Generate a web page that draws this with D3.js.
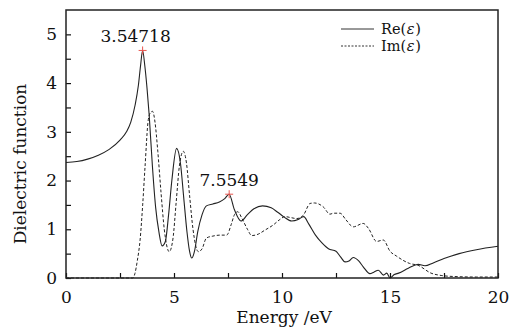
<!DOCTYPE html>
<html>
<head>
<meta charset="utf-8">
<script src="https://cdn.jsdelivr.net/npm/d3@7"></script>
<style>
  body { margin: 0; background: #fff; }
  svg text { font-family: "DejaVu Serif", serif; fill: #111; }
</style>
</head>
<body>
<div id="chart"></div>
<script>
// real part
var reX = [0, 0.5, 1, 1.5, 2, 2.5, 2.8, 3.0, 3.2, 3.35, 3.45, 3.547, 3.65, 3.75, 3.85, 4.0, 4.15, 4.3, 4.45, 4.6, 4.75, 4.9, 5.12, 5.3, 5.45, 5.6, 5.72, 5.82, 5.95, 6.1, 6.3, 6.5, 6.8, 7.1, 7.35, 7.55, 7.8, 8.1, 8.4, 8.7, 9.1, 9.5, 9.8, 10.1, 10.45, 10.75, 11.0, 11.25, 11.55, 11.85, 12.15, 12.5, 12.7, 12.92, 13.1, 13.3, 13.55, 13.76, 14.07, 14.25, 14.46, 14.7, 14.85, 15.0, 15.2, 15.4, 15.85, 16.3, 16.62, 17.0, 17.5, 18.2, 19.0, 20];
var reY = [2.37, 2.39, 2.44, 2.52, 2.64, 2.83, 3.0, 3.2, 3.55, 3.95, 4.35, 4.67, 4.35, 3.9, 3.35, 2.3, 1.45, 0.95, 0.66, 0.75, 1.3, 2.0, 2.66, 2.35, 1.65, 0.95, 0.55, 0.41, 0.55, 0.95, 1.3, 1.48, 1.52, 1.56, 1.63, 1.72, 1.4, 1.17, 1.3, 1.42, 1.48, 1.44, 1.35, 1.25, 1.17, 1.2, 1.26, 1.1, 0.88, 0.72, 0.6, 0.55, 0.44, 0.33, 0.35, 0.42, 0.35, 0.23, 0.09, 0.12, 0.16, 0.06, 0.1, 0.0, 0.07, 0.1, 0.2, 0.28, 0.25, 0.31, 0.4, 0.5, 0.58, 0.65];

// imaginary part
var imX = [0, 3.1, 3.19, 3.3, 3.43, 3.55, 3.66, 3.81, 3.92, 4.01, 4.12, 4.25, 4.4, 4.55, 4.78, 4.95, 5.1, 5.25, 5.43, 5.58, 5.72, 5.88, 6.13, 6.3, 6.5, 6.8, 7.13, 7.44, 7.65, 7.8, 7.95, 8.15, 8.4, 8.6, 8.9, 9.2, 9.6, 9.9, 10.14, 10.4, 10.68, 10.99, 11.3, 11.5, 11.91, 12.22, 12.38, 12.69, 12.95, 13.3, 13.76, 14.0, 14.38, 14.69, 15.0, 15.3, 15.9, 16.3, 16.9, 17.4, 18.0, 19.0, 20];
var imY = [0, 0, 0.09, 0.35, 0.78, 1.5, 2.29, 3.25, 3.4, 3.42, 3.2, 2.6, 1.75, 1.0, 0.54, 0.8, 1.55, 2.3, 2.6, 2.35, 1.7, 1.0, 0.54, 0.6, 0.82, 0.86, 0.88, 0.88, 1.1, 1.3, 1.36, 1.22, 1.0, 0.87, 0.9, 0.98, 1.09, 1.2, 1.26, 1.24, 1.22, 1.29, 1.53, 1.54, 1.46, 1.31, 1.33, 1.33, 1.2, 1.05, 1.12, 1.02, 0.75, 0.78, 0.55, 0.45, 0.3, 0.26, 0.1, 0.05, 0.03, 0.02, 0.02];

// marked peaks
var peakX = [3.54718, 7.5549];
var peakY = [4.67, 1.72];
var peakLabels = ["3.54718", "7.5549"];

var xTicks = [0, 5, 10, 15, 20];
var yTicks = [0, 1, 2, 3, 4, 5];
var legendNames = ["Re", "Im"];

var width = 524, height = 328;
var margin = { top: 10, right: 26, bottom: 50, left: 66 };

var svg = d3.select("#chart").append("svg")
    .attr("width", width)
    .attr("height", height);

var x = d3.scaleLinear().domain([0, 20]).range([margin.left, width - margin.right]);
var y = d3.scaleLinear().domain([0, 5.5]).range([height - margin.bottom, margin.top]);

var reData = reX.map(function (d, i) { return [d, reY[i]]; });
var imData = imX.map(function (d, i) { return [d, imY[i]]; });

var line = d3.line()
    .x(function (d) { return x(d[0]); })
    .y(function (d) { return y(d[1]); })
    .curve(d3.curveMonotoneX);

svg.append("path")
    .datum(imData)
    .attr("d", line)
    .attr("fill", "none")
    .attr("stroke", "#222")
    .attr("stroke-width", 1)
    .attr("stroke-dasharray", "3,2");

svg.append("path")
    .datum(reData)
    .attr("d", line)
    .attr("fill", "none")
    .attr("stroke", "#222")
    .attr("stroke-width", 1.1);

// axes, ticks inward
var xAxis = d3.axisBottom(x).tickValues(d3.range(0, 20.01, 2.5))
    .tickSize(-5).tickPadding(9)
    .tickFormat(function (d) { return xTicks.indexOf(d) >= 0 ? d : ""; });
var gx = svg.append("g")
    .attr("transform", "translate(0," + y(0) + ")")
    .call(xAxis);

var yAxis = d3.axisLeft(y).tickValues(d3.range(0, 5.01, 0.5))
    .tickSize(-5).tickPadding(9)
    .tickFormat(function (d) { return yTicks.indexOf(d) >= 0 ? d : ""; });
var gy = svg.append("g")
    .attr("transform", "translate(" + x(0) + ",0)")
    .call(yAxis);

[gx, gy].forEach(function (g) {
    g.select(".domain").remove();
    g.selectAll("line").attr("stroke", "#111").attr("stroke-width", 1.2);
    g.selectAll("text").style("font-family", "DejaVu Serif").style("font-size", "17px").attr("fill", "#111");
});
gx.selectAll("text").attr("dy", "0.95em");

// frame
svg.append("rect")
    .attr("x", x(0)).attr("y", y(5.5))
    .attr("width", x(20) - x(0)).attr("height", y(0) - y(5.5))
    .attr("fill", "none")
    .attr("stroke", "#222")
    .attr("stroke-width", 1.5);

svg.append("text")
    .attr("x", 284).attr("y", 323)
    .attr("text-anchor", "middle")
    .style("font-size", "17px")
    .text("Energy /eV");

svg.append("text")
    .attr("transform", "translate(26,164) rotate(-90)")
    .attr("text-anchor", "middle")
    .style("font-size", "17px")
    .text("Dielectric function");

// peak markers
peakX.forEach(function (px, i) {
    var cx = x(px), cy = y(peakY[i]);
    svg.append("path")
        .attr("d", "M" + (cx - 4) + "," + cy + "H" + (cx + 4) + "M" + cx + "," + (cy - 4) + "V" + (cy + 4))
        .attr("stroke", "#e8554e")
        .attr("stroke-width", 1);
    svg.append("text")
        .attr("x", cx + (i == 0 ? -7 : 0))
        .attr("y", cy - 8)
        .attr("text-anchor", "middle")
        .style("font-size", "17px")
        .text(peakLabels[i]);
});

// legend: pieces placed one after another so they don't overlap
var leg = svg.append("g").attr("transform", "translate(341,29)");
legendNames.forEach(function (name, i) {
    leg.append("line")
        .attr("x1", 0).attr("x2", 33)
        .attr("y1", i * 17).attr("y2", i * 17)
        .attr("stroke", "#333")
        .attr("stroke-width", 1)
        .attr("stroke-dasharray", i == 1 ? "2,1.5" : null);
    var parts = [name + "(", "ε", ")"];
    var tx = 40;
    parts.forEach(function (p, j) {
        var t = leg.append("text")
            .attr("x", tx).attr("y", i * 17 + 5)
            .style("font-size", "14.5px")
            .style("font-style", j == 1 ? "italic" : "normal")
            .text(p);
        tx += t.node().getBBox().width + 0.5;
    });
});
</script>
</body>
</html>
